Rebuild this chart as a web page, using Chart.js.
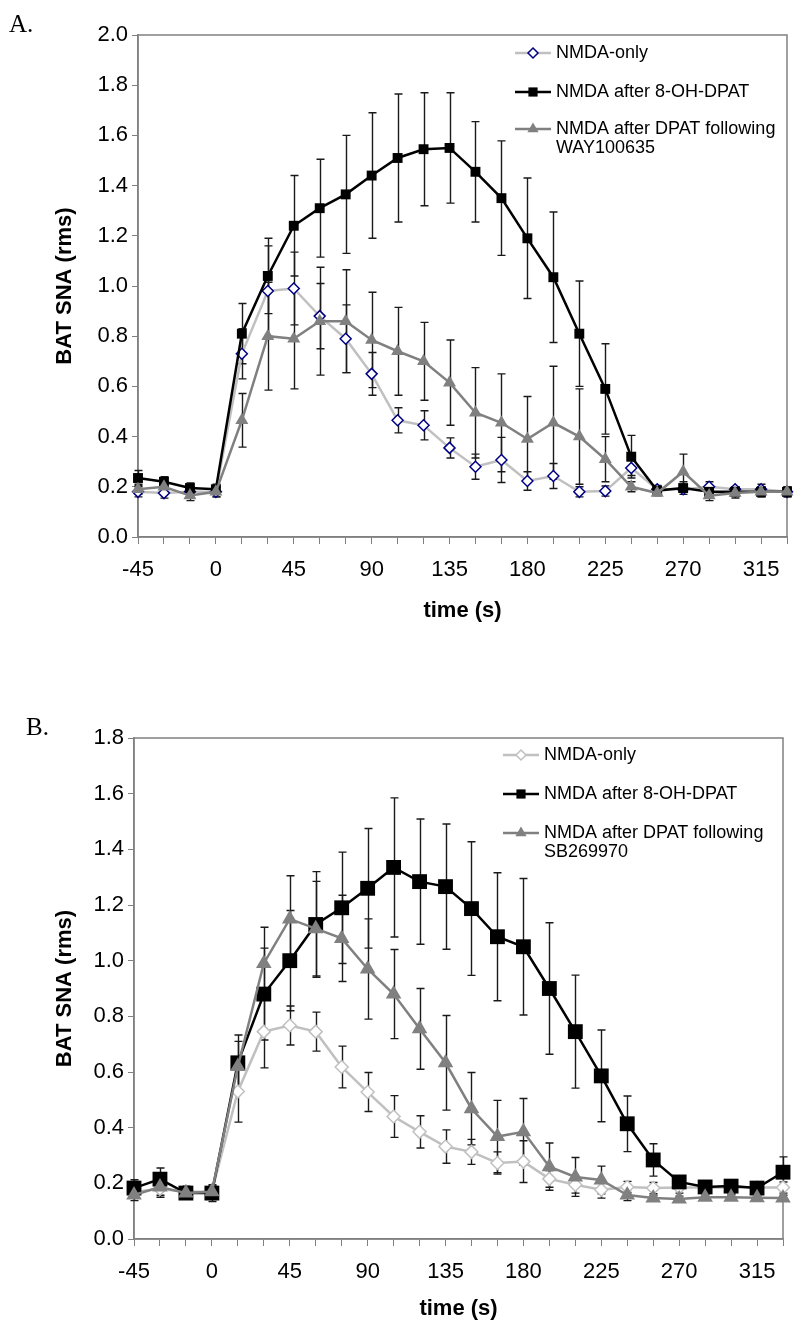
<!DOCTYPE html>
<html>
<head>
<meta charset="utf-8">
<script src="https://cdn.jsdelivr.net/npm/chart.js@4.4.1/dist/chart.umd.min.js"></script>
<style>
  body { margin: 0; background: #fff; width: 800px; height: 1333px; position: relative; overflow: hidden; }
  .panel { position: absolute; left: 0; width: 800px; }
  #wrapA { top: 0; height: 640px; }
  #wrapB { top: 650px; height: 683px; }
</style>
</head>
<body>
<div class="panel" id="wrapA"><canvas id="chartA" width="800" height="640"></canvas></div>
<div class="panel" id="wrapB"><canvas id="chartB" width="800" height="683"></canvas></div>
<script>
// tiempo (s), una muestra cada 15 s
const times = [-45, -30, -15, 0, 15, 30, 45, 60, 75, 90, 105, 120, 135, 150, 165, 180, 195, 210, 225, 240, 255, 270, 285, 300, 315, 330];

// --- Panel A ---
const aOnly    = [0.18, 0.175, 0.18, 0.18, 0.73, 0.98, 0.99, 0.88, 0.79, 0.65, 0.465, 0.445, 0.355, 0.28, 0.307, 0.223, 0.243, 0.18, 0.183, 0.275, 0.19, 0.19, 0.2, 0.19, 0.19, 0.18];
const aOnlyErr = [0.02, 0.02, 0.02, 0.02, 0.1, 0.18, 0.145, 0.13, 0.135, 0.085, 0.05, 0.058, 0.04, 0.05, 0.09, 0.037, 0.05, 0.02, 0.02, 0.03, 0.01, 0.01, 0.02, 0.01, 0.02, 0.01];
const aDpat    = [0.235, 0.22, 0.195, 0.19, 0.81, 1.04, 1.24, 1.31, 1.365, 1.44, 1.51, 1.545, 1.55, 1.455, 1.35, 1.19, 1.035, 0.81, 0.59, 0.32, 0.185, 0.195, 0.18, 0.18, 0.18, 0.18];
const aDpatErr = [0.03, 0.02, 0.02, 0.02, 0.12, 0.15, 0.2, 0.195, 0.235, 0.25, 0.255, 0.225, 0.22, 0.2, 0.228, 0.24, 0.26, 0.21, 0.18, 0.085, 0.02, 0.025, 0.02, 0.02, 0.02, 0.02];
const aWay     = [0.19, 0.2, 0.165, 0.18, 0.465, 0.8, 0.79, 0.86, 0.86, 0.785, 0.74, 0.7, 0.615, 0.495, 0.455, 0.39, 0.455, 0.4, 0.31, 0.2, 0.175, 0.26, 0.165, 0.175, 0.18, 0.18];
const aWayErr  = [0.02, 0.02, 0.02, 0.02, 0.107, 0.215, 0.2, 0.215, 0.205, 0.19, 0.175, 0.155, 0.17, 0.18, 0.195, 0.17, 0.225, 0.19, 0.09, 0.02, 0.01, 0.07, 0.02, 0.02, 0.02, 0.02];

// --- Panel B ---
const bOnly    = [0.17, 0.18, 0.17, 0.17, 0.53, 0.745, 0.767, 0.745, 0.618, 0.528, 0.44, 0.385, 0.332, 0.313, 0.273, 0.278, 0.216, 0.195, 0.177, 0.187, 0.183, 0.185, 0.185, 0.185, 0.185, 0.185];
const bOnlyErr = [0.02, 0.03, 0.02, 0.02, 0.11, 0.13, 0.07, 0.07, 0.075, 0.07, 0.075, 0.058, 0.06, 0.045, 0.04, 0.075, 0.03, 0.03, 0.03, 0.02, 0.02, 0.02, 0.02, 0.02, 0.02, 0.02];
const bDpat    = [0.183, 0.215, 0.165, 0.165, 0.633, 0.88, 1.0, 1.13, 1.19, 1.26, 1.335, 1.284, 1.266, 1.187, 1.086, 1.05, 0.9, 0.745, 0.586, 0.414, 0.284, 0.205, 0.187, 0.19, 0.183, 0.24];
const bDpatErr = [0.03, 0.04, 0.02, 0.03, 0.1, 0.165, 0.18, 0.19, 0.2, 0.215, 0.25, 0.225, 0.225, 0.24, 0.23, 0.245, 0.236, 0.203, 0.165, 0.1, 0.058, 0.02, 0.02, 0.02, 0.02, 0.055];
const bSb      = [0.158, 0.187, 0.165, 0.17, 0.62, 0.99, 1.15, 1.115, 1.08, 0.97, 0.88, 0.755, 0.633, 0.468, 0.368, 0.385, 0.26, 0.223, 0.212, 0.158, 0.147, 0.144, 0.15, 0.15, 0.148, 0.147];
const bSbErr   = [0.02, 0.03, 0.02, 0.02, 0.09, 0.13, 0.155, 0.17, 0.155, 0.18, 0.16, 0.145, 0.17, 0.13, 0.13, 0.12, 0.085, 0.07, 0.05, 0.02, 0.01, 0.01, 0.01, 0.01, 0.01, 0.01];

const legendA = ['NMDA-only', 'NMDA after 8-OH-DPAT', ['NMDA after DPAT following', 'WAY100635']];
const legendB = ['NMDA-only', 'NMDA after 8-OH-DPAT', ['NMDA after DPAT following', 'SB269970']];

const FONT = '"Liberation Sans", Arial, sans-serif';
const AXIS_GRAY = '#808080';

function toPoints(vals) {
    return times.map((t, i) => ({ x: t, y: vals[i] }));
}

// dibuja un marcador sencillo para la leyenda
function drawMarker(ctx, style, x, y, r, fill, stroke, lw) {
    ctx.beginPath();
    if (style === 'rect') {
        const s = r * Math.SQRT1_2;
        ctx.rect(x - s, y - s, 2 * s, 2 * s);
    } else if (style === 'rectRot') {
        ctx.moveTo(x, y - r); ctx.lineTo(x + r, y); ctx.lineTo(x, y + r); ctx.lineTo(x - r, y);
        ctx.closePath();
    } else {
        const a = Math.PI * 2 / 3;
        ctx.moveTo(x, y - r);
        ctx.lineTo(x + Math.sin(a) * r, y - Math.cos(a) * r);
        ctx.lineTo(x + Math.sin(2 * a) * r, y - Math.cos(2 * a) * r);
        ctx.closePath();
    }
    ctx.fillStyle = fill;
    ctx.fill();
    if (lw) { ctx.lineWidth = lw; ctx.strokeStyle = stroke; ctx.stroke(); }
}

// barras de error + marco del área de trazado
const errorBars = {
    id: 'errorBars',
    beforeDatasetsDraw(chart) {
        const { ctx, chartArea: a, scales: { x, y } } = chart;
        ctx.save();
        ctx.strokeStyle = AXIS_GRAY;
        ctx.lineWidth = 1.5;
        ctx.strokeRect(a.left, a.top, a.right - a.left, a.bottom - a.top);
        ctx.strokeStyle = '#1a1a1a';
        ctx.lineWidth = 1.4;
        chart.data.datasets.forEach(ds => {
            if (!ds.errors) return;
            ds.data.forEach((p, i) => {
                const e = ds.errors[i];
                const px = Math.round(x.getPixelForValue(p.x)) + 0.5;
                const top = y.getPixelForValue(p.y + e);
                const bot = y.getPixelForValue(p.y - e);
                ctx.beginPath();
                ctx.moveTo(px, top); ctx.lineTo(px, bot);
                ctx.moveTo(px - 4, top); ctx.lineTo(px + 4, top);
                ctx.moveTo(px - 4, bot); ctx.lineTo(px + 4, bot);
                ctx.stroke();
            });
        });
        ctx.restore();
    }
};

// leyenda dentro del área + letra del panel
const panelDecor = {
    id: 'panelDecor',
    afterDraw(chart, args, opts) {
        const ctx = chart.ctx;
        ctx.save();
        ctx.fillStyle = '#000';
        ctx.font = '25px "Liberation Serif", "Times New Roman", serif';
        ctx.textBaseline = 'alphabetic';
        ctx.fillText(opts.tag, opts.tagX, opts.tagY);

        ctx.font = '18px ' + FONT;
        ctx.textBaseline = 'middle';
        const order = [0, 1, 2];
        order.forEach(k => {
            const ds = chart.data.datasets[k];
            const y = opts.rows[k];
            ctx.strokeStyle = ds.borderColor;
            ctx.lineWidth = 2.5;
            ctx.beginPath();
            ctx.moveTo(opts.x0, y); ctx.lineTo(opts.x0 + 36, y);
            ctx.stroke();
            const r = ds.pointStyle === 'rect' ? 6.5 : (ds.pointStyle === 'triangle' ? 6.5 : 5);
            drawMarker(ctx, ds.pointStyle, opts.x0 + 18, y, r, ds.pointBackgroundColor,
                       ds.pointBorderColor, ds.pointStyle === 'rectRot' ? 1.5 : 0);
            const lines = Array.isArray(opts.labels[k]) ? opts.labels[k] : [opts.labels[k]];
            ctx.fillStyle = '#000';
            lines.forEach((t, j) => ctx.fillText(t, opts.x0 + 41, y + j * 19));
        });
        ctx.restore();
    }
};

function makeChart(canvasId, cfg) {
    const ctx = document.getElementById(canvasId).getContext('2d');
    const datasets = [
        {
            label: 'NMDA-only', data: toPoints(cfg.only), errors: cfg.onlyErr,
            borderColor: '#c0c0c0', borderWidth: 2.5,
            pointStyle: 'rectRot', pointRadius: cfg.diamondR, pointBorderWidth: 1.5,
            pointBackgroundColor: '#ffffff', pointBorderColor: cfg.diamondEdge,
            order: 3, clip: false
        },
        {
            label: 'NMDA after 8-OH-DPAT', data: toPoints(cfg.dpat), errors: cfg.dpatErr,
            borderColor: '#000000', borderWidth: 2.5,
            pointStyle: 'rect', pointRadius: cfg.squareR, pointBorderWidth: 0,
            pointBackgroundColor: '#000000', pointBorderColor: '#000000',
            order: 2, clip: false
        },
        {
            label: 'NMDA after DPAT following', data: toPoints(cfg.third), errors: cfg.thirdErr,
            borderColor: '#808080', borderWidth: 2.5,
            pointStyle: 'triangle', pointRadius: cfg.triR, pointBorderWidth: 0,
            pointBackgroundColor: '#808080', pointBorderColor: '#808080',
            order: 1, clip: false
        }
    ];

    return new Chart(ctx, {
        type: 'line',
        data: { datasets },
        options: {
            responsive: false,
            animation: false,
            events: [],
            layout: { padding: { top: cfg.plotTop, right: 800 - cfg.plotRight, left: 0, bottom: 0 } },
            plugins: {
                legend: { display: false },
                tooltip: { enabled: false },
                panelDecor: cfg.decor
            },
            scales: {
                x: {
                    type: 'linear', min: -45, max: 330,
                    afterFit: s => { s.height = cfg.xAxisH; },
                    border: { color: AXIS_GRAY, width: 1.5 },
                    grid: { drawOnChartArea: false, drawTicks: true, tickLength: 7, color: AXIS_GRAY, lineWidth: 1 },
                    ticks: {
                        stepSize: 15, autoSkip: false, maxRotation: 0, padding: 13,
                        color: '#000', font: { family: FONT, size: 22 },
                        callback: v => (v % 45 === 0 ? String(v) : '')
                    },
                    title: {
                        display: true, text: 'time (s)', color: '#000',
                        font: { family: FONT, size: 22, weight: 'bold' },
                        padding: { top: 0, bottom: cfg.xTitlePad }
                    }
                },
                y: {
                    min: 0, max: cfg.yMax,
                    afterFit: s => { s.width = cfg.plotLeft; },
                    border: { color: AXIS_GRAY, width: 1.5 },
                    grid: { drawOnChartArea: false, drawTicks: true, tickLength: 6, color: AXIS_GRAY, lineWidth: 1 },
                    ticks: {
                        stepSize: 0.2, padding: 4,
                        color: '#000', font: { family: FONT, size: 22 },
                        callback: v => v.toFixed(1)
                    },
                    title: {
                        display: true, text: 'BAT SNA (rms)', color: '#000',
                        font: { family: FONT, size: 22, weight: 'bold' },
                        padding: { top: 52, bottom: 0 }
                    }
                }
            }
        },
        plugins: [errorBars, panelDecor]
    });
}

makeChart('chartA', {
    only: aOnly, onlyErr: aOnlyErr, dpat: aDpat, dpatErr: aDpatErr, third: aWay, thirdErr: aWayErr,
    diamondR: 5.5, diamondEdge: '#000080', squareR: 7, triR: 7.5,
    yMax: 2, plotTop: 35, plotRight: 788, plotLeft: 138, xAxisH: 640 - 537, xTitlePad: 16,
    decor: { tag: 'A.', tagX: 9, tagY: 32, x0: 515, rows: [53, 92, 129], labels: legendA }
});

makeChart('chartB', {
    only: bOnly, onlyErr: bOnlyErr, dpat: bDpat, dpatErr: bDpatErr, third: bSb, thirdErr: bSbErr,
    diamondR: 6.5, diamondEdge: '#c0c0c0', squareR: 10.5, triR: 9,
    yMax: 1.8, plotTop: 88, plotRight: 783, plotLeft: 134, xAxisH: 683 - 589, xTitlePad: 11,
    decor: { tag: 'B.', tagX: 26, tagY: 85, x0: 503, rows: [755, 794, 833].map(v => v - 650), labels: legendB }
});
</script>
</body>
</html>
